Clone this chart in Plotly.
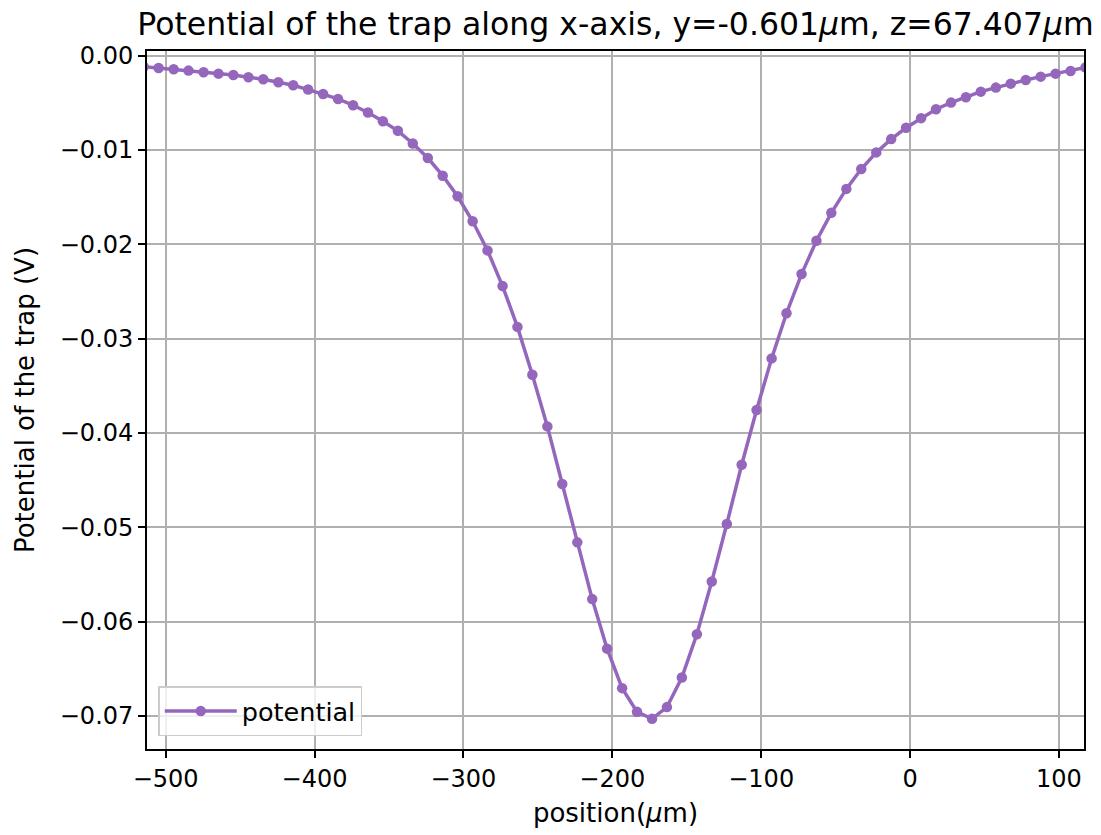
import plotly.graph_objects as go

# Sample positions along x (µm)
positions = [
    -514.7, -504.7, -494.6, -484.6, -474.5, -464.5, -454.5, -444.4, -434.4, -424.3,
    -414.3, -404.3, -394.2, -384.2, -374.1, -364.1, -354.1, -344.0, -334.0, -323.9,
    -313.9, -303.9, -293.8, -283.8, -273.7, -263.7, -253.7, -243.6, -233.6, -223.5,
    -213.5, -203.5, -193.4, -183.4, -173.3, -163.3, -153.3, -143.2, -133.2, -123.1,
    -113.1, -103.1, -93.0, -83.0, -72.9, -62.9, -52.9, -42.8, -32.8, -22.7,
    -12.7, -2.7, 7.4, 17.4, 27.5, 37.5, 47.5, 57.6, 67.6, 77.7,
    87.7, 97.7, 107.8, 117.8,
]

# Trap potential (V) at each position
potential = [
    -0.00117, -0.00130, -0.00144, -0.00158, -0.00176, -0.00190, -0.00204, -0.00229, -0.00250, -0.00282,
    -0.00313, -0.00359, -0.00405, -0.00458, -0.00525, -0.00602, -0.00694, -0.00796, -0.00930, -0.01085,
    -0.01272, -0.01490, -0.01755, -0.02064, -0.02442, -0.02875, -0.03383, -0.03930, -0.04541, -0.05159,
    -0.05761, -0.06286, -0.06705, -0.06956, -0.07030, -0.06906, -0.06592, -0.06134, -0.05574, -0.04964,
    -0.04337, -0.03756, -0.03209, -0.02730, -0.02315, -0.01962, -0.01666, -0.01412, -0.01201, -0.01025,
    -0.00884, -0.00764, -0.00662, -0.00567, -0.00497, -0.00440, -0.00381, -0.00338, -0.00296, -0.00257,
    -0.00222, -0.00190, -0.00162, -0.00125,
]

x_ticks = [-500, -400, -300, -200, -100, 0, 100]
y_ticks = [0.00, -0.01, -0.02, -0.03, -0.04, -0.05, -0.06, -0.07]

FONT = "DejaVu Sans"
PURPLE = "#9467bd"
TICK_SIZE = 24
LABEL_SIZE = 26

fig = go.Figure()
fig.add_trace(go.Scatter(
    x=positions, y=potential, mode="lines+markers", name="potential",
    line=dict(color=PURPLE, width=3.5),
    marker=dict(color=PURPLE, size=10.5),
))

axis_common = dict(
    showgrid=True, gridcolor="#b0b0b0", gridwidth=1.8,
    showline=True, linecolor="black", linewidth=1.8, mirror=True,
    ticks="outside", ticklen=7, tickwidth=1.8, tickcolor="black",
    zeroline=False,
    tickfont=dict(family=FONT, size=TICK_SIZE, color="black"),
)

fig.update_layout(
    width=1101, height=835,
    margin=dict(l=147, r=17, t=51, b=84),
    paper_bgcolor="white", plot_bgcolor="white",
    title=dict(
        text="Potential of the trap along x-axis, y=-0.601<i>μ</i>m, z=67.407<i>μ</i>m",
        font=dict(family=FONT, size=31.5, color="black"),
        x=(147 + 1084) / 2 / 1101, xanchor="center",
        y=1 - 24 / 835, yanchor="middle",
    ),
    xaxis=dict(
        range=[-512.5, 116.8], tickvals=x_ticks,
        title=dict(text="position(<i>μ</i>m)", font=dict(family=FONT, size=LABEL_SIZE, color="black"), standoff=12),
        **axis_common,
    ),
    yaxis=dict(
        range=[-0.0735, 0.0005], tickvals=y_ticks, tickformat=".2f",
        title=dict(text="Potential of the trap (V)", font=dict(family=FONT, size=LABEL_SIZE, color="black"), standoff=18),
        **axis_common,
    ),
    legend=dict(
        x=0.012, y=0.018, xanchor="left", yanchor="bottom",
        bgcolor="rgba(255,255,255,0.8)", bordercolor="#cccccc", borderwidth=1.5,
        font=dict(family=FONT, size=25.5, color="black"),
        itemwidth=72,
    ),
    showlegend=True,
)

fig.write_html("out.html")
